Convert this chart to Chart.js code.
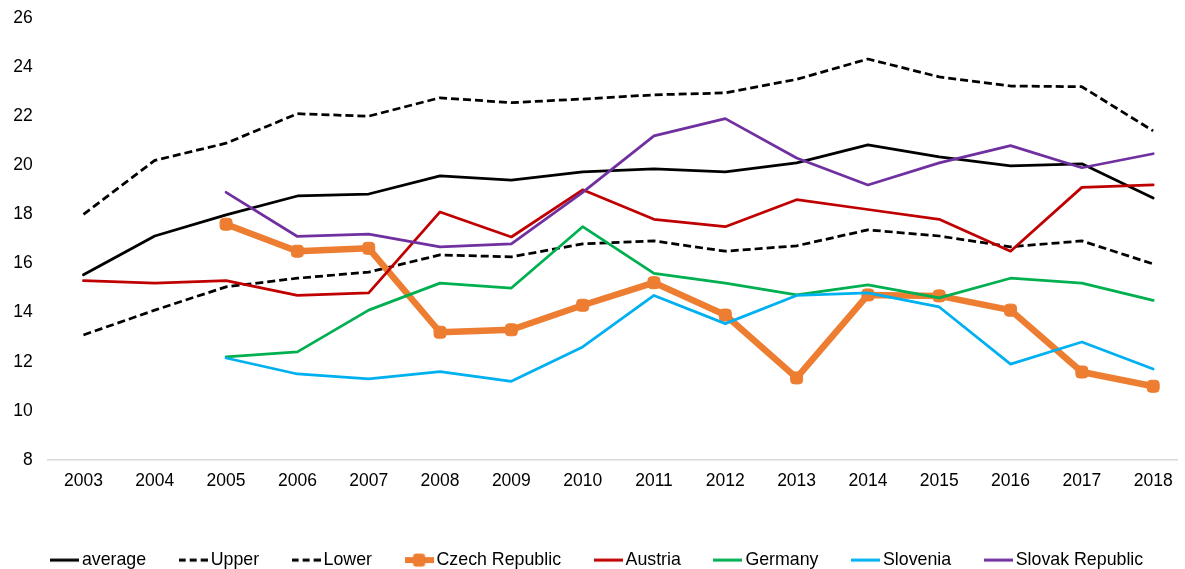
<!DOCTYPE html>
<html>
<head>
<meta charset="utf-8">
<script src="https://cdn.jsdelivr.net/npm/chart.js@4/dist/chart.umd.min.js"></script>
<style>
  html, body { margin: 0; padding: 0; background: #fff; overflow: hidden; }
  #wrap { position: relative; width: 1185px; height: 579px; }
</style>
</head>
<body>
<div id="wrap"><canvas id="chart"></canvas></div>
<script>
// values
const years = [2003, 2004, 2005, 2006, 2007, 2008, 2009, 2010, 2011, 2012, 2013, 2014, 2015, 2016, 2017, 2018];
const yTicks = [8, 26, 2]; // min, max, step

const average = [15.54, 17.12, 17.98, 18.75, 18.83, 19.57, 19.4, 19.73, 19.85, 19.73, 20.1, 20.83, 20.34, 19.98, 20.06, 18.67];
const upper   = [18.0, 20.2, 20.9, 22.1, 22.0, 22.75, 22.55, 22.7, 22.87, 22.95, 23.5, 24.33, 23.6, 23.23, 23.2, 21.4];
const lower   = [13.09, 14.1, 15.05, 15.4, 15.65, 16.35, 16.27, 16.8, 16.92, 16.5, 16.72, 17.37, 17.12, 16.68, 16.92, 15.98];
const czech   = [null, null, 17.6, 16.5, 16.62, 13.2, 13.3, 14.3, 15.22, 13.9, 11.34, 14.72, 14.68, 14.1, 11.58, 11.0];
const austria = [15.3, 15.2, 15.3, 14.7, 14.8, 18.1, 17.08, 19.0, 17.8, 17.5, 18.6, 18.2, 17.8, 16.5, 19.1, 19.2];
const germany = [null, null, 12.2, 12.4, 14.1, 15.2, 15.0, 17.5, 15.6, 15.2, 14.72, 15.13, 14.6, 15.4, 15.2, 14.5];
const slovenia = [null, null, 12.15, 11.5, 11.3, 11.6, 11.2, 12.6, 14.7, 13.55, 14.7, 14.8, 14.23, 11.9, 12.8, 11.7];
const slovak  = [null, null, 18.9, 17.1, 17.2, 16.68, 16.8, 18.9, 21.2, 21.9, 20.3, 19.2, 20.1, 20.8, 19.9, 20.47];

const FONT = "'Liberation Sans', Arial, sans-serif";

function pts(arr) {
    return arr.map((v, i) => ({ x: years[i], y: v }));
}

// small canvas used as legend symbol
function legendSymbol(color, dashed, marker) {
    const c = document.createElement('canvas');
    c.width = 29;
    c.height = 16;
    const g = c.getContext('2d');
    g.strokeStyle = color;
    g.lineWidth = marker ? 6 : 3;
    if (dashed) g.setLineDash([7, 4]);
    g.beginPath();
    g.moveTo(0, 8);
    g.lineTo(29, 8);
    g.stroke();
    if (marker) {
        g.fillStyle = color;
        g.beginPath();
        g.roundRect(8.5, 1.5, 12, 13, 3);
        g.fill();
    }
    return c;
}

function series(label, data, color, opts) {
    opts = opts || {};
    return Object.assign({
        label: label,
        data: pts(data),
        borderColor: color,
        backgroundColor: color,
        borderWidth: 2.75,
        borderDash: [],
        borderJoinStyle: 'round',
        borderCapStyle: 'round',
        pointRadius: 0,
        tension: 0,
        symbol: legendSymbol(color, false, false)
    }, opts);
}

const datasets = [
    series('average', average, '#000000'),
    series('Upper', upper, '#000000', { borderDash: [8, 4], borderCapStyle: 'butt', symbol: legendSymbol('#000000', true, false) }),
    series('Lower', lower, '#000000', { borderDash: [8, 4], borderCapStyle: 'butt', symbol: legendSymbol('#000000', true, false) }),
    series('Czech Republic', czech, '#ED7D31', {
        borderWidth: 6.5,
        pointRadius: 7,
        pointStyle: 'rectRounded',
        pointBorderWidth: 1,
        symbol: legendSymbol('#ED7D31', false, true)
    }),
    series('Austria', austria, '#C00000'),
    series('Germany', germany, '#00B050'),
    series('Slovenia', slovenia, '#00B0F0'),
    series('Slovak Republic', slovak, '#7030A0')
];
// later series drawn on top, like the original
datasets.forEach((d, i) => { d.order = -i; });

const ctx = document.getElementById('chart').getContext('2d');
const chart = new Chart(ctx, {
    type: 'line',
    data: { datasets: datasets },
    options: {
        responsive: true,
        maintainAspectRatio: false,
        animation: false,
        layout: { padding: { top: 18, right: 0, bottom: 0, left: 14 } },
        plugins: {
            tooltip: { enabled: false },
            legend: {
                position: 'bottom',
                align: 'center',
                labels: {
                    usePointStyle: true,
                    pointStyleWidth: 17.2,
                    boxHeight: 17.8,
                    padding: 38.4,
                    color: '#000',
                    font: { family: FONT, size: 17.8 },
                    generateLabels: function(ch) {
                        return ch.data.datasets.map((d, i) => ({
                            text: d.label,
                            pointStyle: d.symbol,
                            fillStyle: d.borderColor,
                            strokeStyle: d.borderColor,
                            lineWidth: 0,
                            fontColor: '#000',
                            hidden: false,
                            datasetIndex: i
                        }));
                    }
                }
            }
        },
        scales: {
            x: {
                type: 'linear',
                min: years[0] - 0.5,
                max: 2018.334,
                grid: { display: false, drawTicks: false },
                border: { display: true, color: '#d9d9d9', width: 1.5 },
                ticks: {
                    stepSize: 1,
                    includeBounds: false,
                    autoSkip: false,
                    maxRotation: 0,
                    padding: 11,
                    color: '#000',
                    font: { family: FONT, size: 17.5 },
                    callback: function(v) { return years.includes(v) ? String(v) : ''; }
                },
                afterFit: function(scale) {
                    scale.height = 52.9;
                    scale.paddingLeft = 0;
                    scale.paddingRight = 0;
                }
            },
            y: {
                min: yTicks[0],
                max: yTicks[1],
                grid: { display: false, drawTicks: false },
                border: { display: false },
                ticks: {
                    stepSize: yTicks[2],
                    padding: 15,
                    color: '#000',
                    font: { family: FONT, size: 17.5 }
                },
                afterFit: function(scale) {
                    scale.width = 33.8;
                    scale.paddingTop = 0;
                    scale.paddingBottom = 0;
                }
            }
        }
    }
});
</script>
</body>
</html>
